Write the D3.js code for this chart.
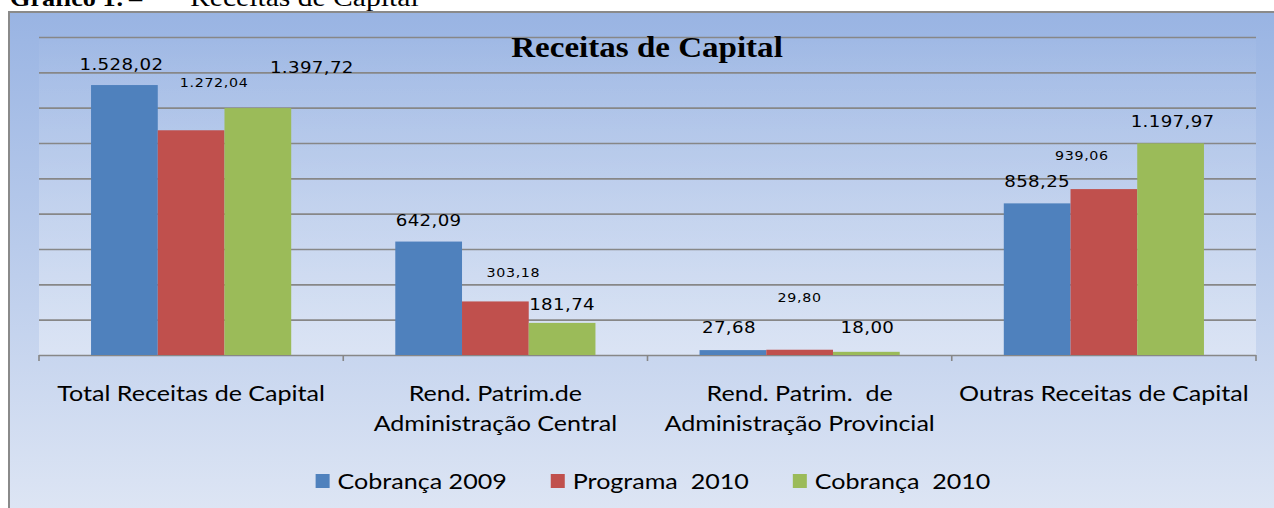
<!DOCTYPE html>
<html>
<head>
<meta charset="utf-8">
<script src="https://cdn.jsdelivr.net/npm/d3@7"></script>
<style>
  html, body { margin: 0; padding: 0; background: #fff; }
  svg { display: block; }
</style>
</head>
<body>
<svg width="1274" height="508"></svg>
<script>
// data
const categories = [
  ['Total Receitas de Capital'],
  ['Rend. Patrim.de', 'Administração Central'],
  ['Rend. Patrim.  de', 'Administração Provincial'],
  ['Outras Receitas de Capital'],
]
const seriesNames = ['Cobrança 2009', 'Programa  2010', 'Cobrança  2010']
const cobranca2009 = [1528.02, 642.09, 27.68, 858.25]
const programa2010 = [1272.04, 303.18, 29.8, 939.06]
const cobranca2010 = [1397.72, 181.74, 18.0, 1197.97]
const yTicks = [0, 200, 400, 600, 800, 1000, 1200, 1400, 1600, 1800]

const colors = ['#4f81bd', '#c0504d', '#9bbb59']
// label nudges (Excel put them a bit everywhere)
const labelDx = [[-3, 0, -4, 0], [23, 18, 0, -22], [54, 0, 1, 2]]
const labelDy = [[-21, -21, -23, -22], [-48, -29, -52, -34], [-41, -19, -25, -22]]

const SX = 1.14 // the original is stretched sideways
const W = 1274
const H = 508
const plot = { left: 39, right: 1256, top: 37, bottom: 355 }

const values = [cobranca2009, programa2010, cobranca2010]
const ptFormat = d3.formatLocale({ decimal: ',', thousands: '.', grouping: [3], currency: ['', ''] }).format(',.2f')

const svg = d3.select('svg')
const defs = svg.append('defs')

const bg = defs.append('linearGradient').attr('id', 'bg').attr('x1', 0).attr('y1', 0).attr('x2', 0).attr('y2', 1)
bg.append('stop').attr('offset', 0).attr('stop-color', '#99b4e3')
bg.append('stop').attr('offset', 1).attr('stop-color', '#e1e8f5')

const pg = defs.append('linearGradient').attr('id', 'pg').attr('x1', 0).attr('y1', 0).attr('x2', 0).attr('y2', 1)
pg.append('stop').attr('offset', 0).attr('stop-color', '#fff').attr('stop-opacity', 0.03)
pg.append('stop').attr('offset', 1).attr('stop-color', '#fff').attr('stop-opacity', 0.35)

// stretched text helper
function label(g, x, y, text, style) {
  const t = g.append('g')
    .attr('transform', `translate(${x},${y}) scale(${SX},1)`)
    .append('text')
    .attr('text-anchor', style.anchor || 'middle')
    .attr('font-family', style.family)
    .attr('font-size', style.size)
    .attr('font-weight', style.weight || 'normal')
    .attr('fill', '#000')
    .style('white-space', 'pre')
    .text(text)
  if (style.dy) t.attr('dy', style.dy)
  if (style.spacing) t.attr('letter-spacing', style.spacing)
  return t
}

// header of the page, cut at the top
const head = svg.append('g')
label(head, 10, 6, 'Gráfico 1:', { family: 'Liberation Serif', size: 23, weight: 'bold', anchor: 'start' })
label(head, 129, 6, '–', { family: 'Liberation Serif', size: 23, anchor: 'start' })
label(head, 190, 6, 'Receitas de Capital', { family: 'Liberation Serif', size: 26, anchor: 'start' })

// chart frame
svg.append('rect')
  .attr('x', 9).attr('y', 12).attr('width', W + 20).attr('height', H + 20)
  .attr('fill', 'url(#bg)').attr('stroke', '#8a8a8a').attr('stroke-width', 2)

svg.append('rect')
  .attr('x', plot.left).attr('y', plot.top)
  .attr('width', plot.right - plot.left).attr('height', plot.bottom - plot.top)
  .attr('fill', 'url(#pg)')

const x = d3.scaleBand().domain(d3.range(categories.length)).range([plot.left, plot.right])
const x1 = d3.scaleBand().domain(d3.range(values.length)).range([0, x.bandwidth()]).paddingOuter(0.78)
const y = d3.scaleLinear().domain([0, 1800]).range([plot.bottom, plot.top])

// gridlines
svg.append('g')
  .attr('transform', `translate(${plot.left},0)`)
  .call(d3.axisLeft(y).tickValues(yTicks).tickSize(-(plot.right - plot.left)).tickFormat(''))
  .call(g => g.select('.domain').remove())
  .call(g => g.selectAll('.tick line').attr('stroke', '#878787').attr('stroke-width', 1.6))

// bars
const groups = svg.append('g')
  .selectAll('g')
  .data(values)
  .join('g')
  .attr('fill', (d, i) => colors[i])

groups.selectAll('rect')
  .data((d, s) => d.map((v, c) => ({ v, c, s })))
  .join('rect')
  .attr('x', d => x(d.c) + x1(d.s))
  .attr('y', d => y(d.v))
  .attr('width', x1.bandwidth())
  .attr('height', d => y(0) - y(d.v))

// category boundary ticks
svg.append('g')
  .selectAll('line')
  .data(d3.range(categories.length + 1))
  .join('line')
  .attr('x1', i => plot.left + i * x.step())
  .attr('x2', i => plot.left + i * x.step())
  .attr('y1', plot.bottom)
  .attr('y2', plot.bottom + 6)
  .attr('stroke', '#878787')
  .attr('stroke-width', 1.6)

// data labels
const labels = svg.append('g')
values.forEach((arr, s) => {
  arr.forEach((v, c) => {
    const cx = x(c) + x1(s) + x1.bandwidth() / 2 + labelDx[s][c]
    const cy = y(v) + labelDy[s][c]
    const small = s === 1
    label(labels, cx, cy, ptFormat(v), {
      family: 'DejaVu Sans',
      size: small ? 12.5 : 16,
      dy: '0.36em',
      spacing: small ? 0.6 : 0.3,
    })
  })
})

// category labels
const cats = svg.append('g')
categories.forEach((lines, c) => {
  lines.forEach((line, k) => {
    label(cats, x(c) + x.bandwidth() / 2, 393 + k * 30, line, {
      family: 'Lato', size: 22, dy: '0.35em',
    })
  })
})

// legend
const legend = svg.append('g')
const gap = 44
const items = seriesNames.map((name, i) => {
  const t = label(legend, 0, 0, name, { family: 'Lato', size: 22, anchor: 'start', dy: '0.35em' })
  return { name, i, w: t.node().getComputedTextLength() * SX, t }
})
const total = d3.sum(items, d => 14 + 8 + d.w) + gap * (items.length - 1)
let lx = 653 - total / 2
items.forEach(d => {
  legend.append('rect')
    .attr('x', lx).attr('y', 474).attr('width', 14).attr('height', 14)
    .attr('fill', colors[d.i])
  d3.select(d.t.node().parentNode).attr('transform', `translate(${lx + 22},481) scale(${SX},1)`)
  lx += 14 + 8 + d.w + gap
})

// chart title
label(svg, 647, 47, 'Receitas de Capital', {
  family: 'Liberation Serif', size: 29, weight: 'bold', dy: '0.35em',
})
</script>
</body>
</html>
